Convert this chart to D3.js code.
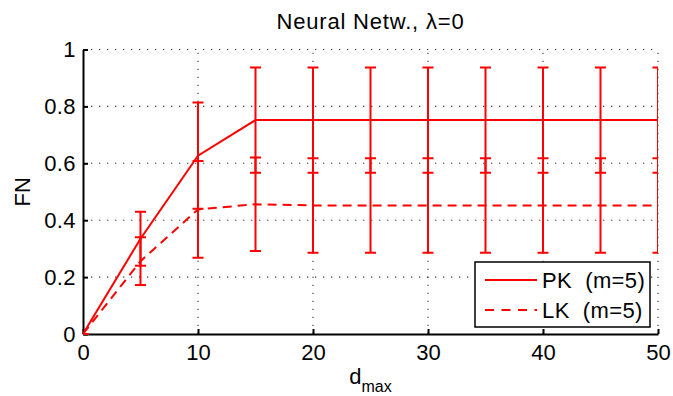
<!DOCTYPE html>
<html><head><meta charset="utf-8">
<script src="https://cdn.jsdelivr.net/npm/d3@7"></script>
<style>body{margin:0;background:#fff}svg{display:block}text{font-family:"Liberation Sans",Arial,sans-serif;fill:#000}</style>
</head><body><svg id="c" width="673" height="396"></svg>
<script>
const dmax = [0,5,10,15,20,25,30,35,40,45,50];
const pkMean = [0,0.335,0.627,0.752,0.752,0.752,0.752,0.752,0.752,0.752,0.752];
const pkErr  = [0,0.095,0.187,0.185,0.185,0.185,0.185,0.185,0.185,0.185,0.185];
const lkMean = [0,0.256,0.438,0.456,0.452,0.452,0.452,0.452,0.452,0.452,0.452];
const lkErr  = [0,0.084,0.170,0.164,0.166,0.166,0.166,0.166,0.166,0.166,0.166];
const xTicks = [0,10,20,30,40,50];
const yTicks = [0,0.2,0.4,0.6,0.8,1];
const yTickLabels = ["0","0.2","0.4","0.6","0.8","1"];
const seriesNames = ["PK  (m=5)","LK  (m=5)"];

const svg = d3.select("#c");
const L=83,R=658,T=49.5,B=334;
const x = d3.scaleLinear().domain([0,50]).range([L,R]);
const y = d3.scaleLinear().domain([0,1]).range([B,T]);
const red = "#ff0000";

svg.append("defs").append("clipPath").attr("id","clip")
  .append("rect").attr("x",L).attr("y",T-2).attr("width",R-L).attr("height",B-T+4);

// grid
const grid = svg.append("g").attr("stroke","#000").attr("stroke-width",1.1).attr("stroke-dasharray","1.3,6.7").attr("opacity",0.75);
xTicks.forEach(t=>{ if(t>0) grid.append("line").attr("x1",x(t)).attr("x2",x(t)).attr("y1",B).attr("y2",T);});
yTicks.forEach(t=>{ if(t>0) grid.append("line").attr("y1",y(t)).attr("y2",y(t)).attr("x1",L).attr("x2",R);});

// axes
const xAxis = d3.axisBottom(x).tickValues(xTicks).tickSizeInner(-5).tickSizeOuter(0).tickPadding(11).tickFormat(d3.format("d"));
const gx = svg.append("g").attr("transform",`translate(0,${B})`).call(xAxis);
const yAxis = d3.axisLeft(y).tickValues(yTicks).tickSizeInner(-5).tickSizeOuter(0).tickPadding(7).tickFormat((d,i)=>yTickLabels[i]);
const gy = svg.append("g").attr("transform",`translate(${L},0)`).call(yAxis);
[gx,gy].forEach(g=>{
  g.select(".domain").attr("stroke","#000").attr("stroke-width",2);
  g.selectAll(".tick line").attr("stroke","#000").attr("stroke-width",2);
  g.selectAll(".tick text").attr("font-size",22).attr("font-family","Liberation Sans, Arial, sans-serif").attr("fill","#000");
});
gx.selectAll(".tick text").attr("dy","0.66em");
gy.selectAll(".tick text").attr("letter-spacing","0.4px");

// data
const plot = svg.append("g").attr("clip-path","url(#clip)");
const pk = dmax.map((d,i)=>({x:d,m:pkMean[i],e:pkErr[i]}));
const lk = dmax.map((d,i)=>({x:d,m:lkMean[i],e:lkErr[i]}));
const line = d3.line().x(d=>x(d.x)).y(d=>y(d.m));
plot.append("path").datum(lk).attr("d",line).attr("fill","none").attr("stroke",red).attr("stroke-width",2).attr("stroke-dasharray","9,6");
plot.append("path").datum(pk).attr("d",line).attr("fill","none").attr("stroke",red).attr("stroke-width",2);
function errbars(data){
  const g = plot.append("g").attr("stroke",red).attr("stroke-width",2).attr("fill","none");
  data.forEach(d=>{
    const cx=x(d.x), lo=y(d.m-d.e), hi=y(d.m+d.e);
    g.append("line").attr("x1",cx).attr("x2",cx).attr("y1",lo).attr("y2",hi);
    g.append("line").attr("x1",cx-5.5).attr("x2",cx+5.5).attr("y1",lo).attr("y2",lo);
    g.append("line").attr("x1",cx-5.5).attr("x2",cx+5.5).attr("y1",hi).attr("y2",hi);
  });
}
errbars(lk); errbars(pk);

// title
svg.append("text").attr("x",(L+R)/2).attr("y",29).attr("text-anchor","middle").attr("font-size",22).attr("letter-spacing","0.8px").text("Neural Netw., λ=0");
// y label
svg.append("text").attr("transform",`translate(30,${(T+B)/2}) rotate(-90)`).attr("text-anchor","middle").attr("font-size",22).text("FN");
// x label
const xl = svg.append("text").attr("x",(L+R)/2).attr("y",384).attr("text-anchor","middle").attr("font-size",22);
xl.append("tspan").text("d");
xl.append("tspan").attr("font-size",16).attr("dy",8).text("max");

// legend
const lg = svg.append("g");
lg.append("rect").attr("x",475).attr("y",262).attr("width",175).attr("height",65).attr("fill","#fff").attr("stroke","#000").attr("stroke-width",1.5);
const rows=[280,310];
seriesNames.forEach((s,i)=>{
  lg.append("line").attr("x1",485).attr("x2",537).attr("y1",rows[i]).attr("y2",rows[i]).attr("stroke",red).attr("stroke-width",2).attr("stroke-dasharray",i?"9,7.5":null);
  lg.append("text").attr("x",542).attr("y",rows[i]).attr("dy","0.36em").attr("font-size",22).attr("letter-spacing","0.4px").attr("xml:space","preserve").text(s);
});
</script></body></html>
